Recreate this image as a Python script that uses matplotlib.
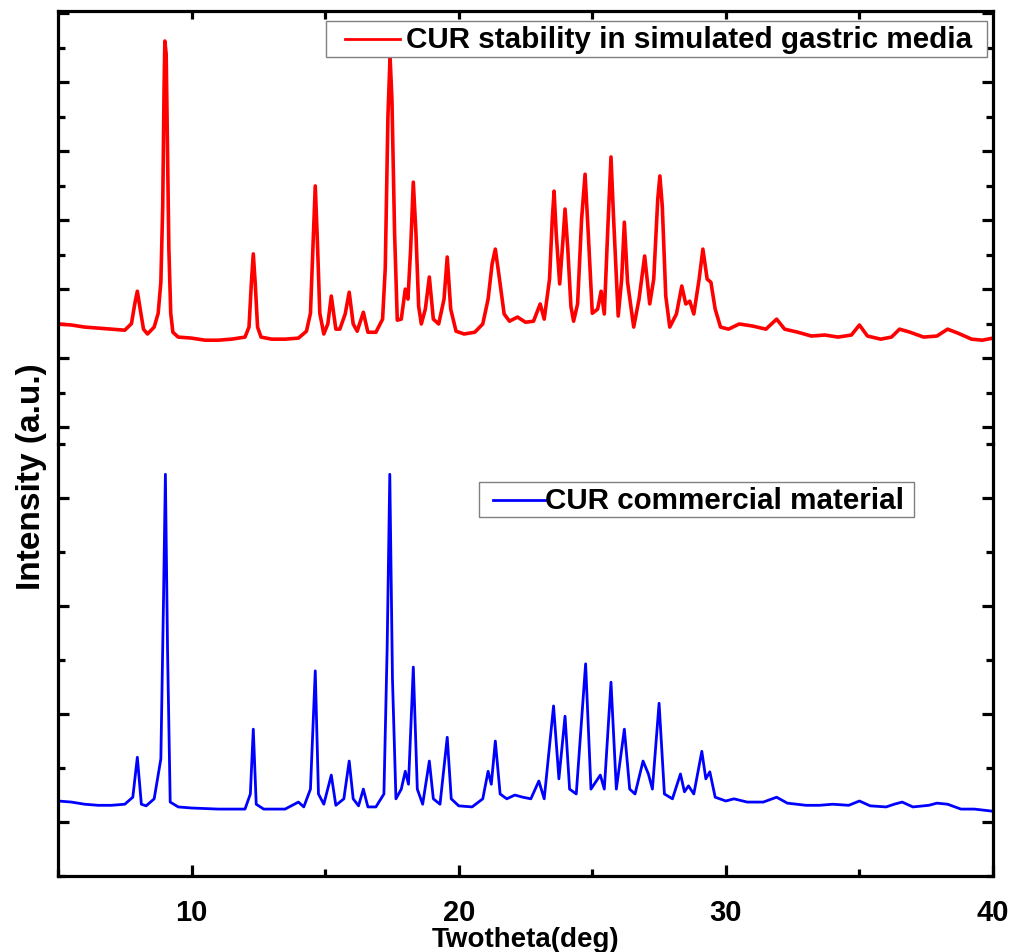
import matplotlib
matplotlib.use("Agg")
import matplotlib.pyplot as plt
from matplotlib.patches import Rectangle
from matplotlib.ticker import MultipleLocator

plt.rcParams['font.family'] = ['Liberation Sans', 'DejaVu Sans']
plt.rcParams['font.weight'] = 'bold'

# CUR stability in simulated gastric media (red, top panel)
gastric_2theta = [5.0, 5.5, 6.0, 6.5, 7.0, 7.5, 7.75, 7.88, 7.97, 8.06, 8.2, 8.35, 8.6, 8.75, 8.85,
                  8.92, 8.97, 9.0, 9.05, 9.1, 9.15, 9.22, 9.3, 9.5, 10.0, 10.5, 11.0, 11.5, 12.0,
                  12.15, 12.24, 12.31, 12.38, 12.47, 12.6, 13.0,
                  13.5, 14.0, 14.3, 14.45, 14.56, 14.63, 14.7, 14.8, 14.95, 15.1, 15.23, 15.4,
                  15.55, 15.75, 15.9, 16.05, 16.2, 16.43, 16.6, 16.9, 17.15, 17.25, 17.35, 17.43,
                  17.5, 17.6, 17.7, 17.85, 18.0, 18.1, 18.2, 18.3, 18.4, 18.5, 18.6, 18.75, 18.9,
                  19.05, 19.25, 19.45, 19.57, 19.7, 19.9, 20.2, 20.6, 20.9, 21.1, 21.25, 21.37,
                  21.5, 21.7, 21.9, 22.2, 22.5, 22.8, 23.05, 23.2, 23.4, 23.5, 23.57, 23.65, 23.78,
                  23.9, 23.98, 24.08, 24.2, 24.3, 24.45, 24.6, 24.73, 24.85, 25.0, 25.2, 25.33,
                  25.45, 25.58, 25.7, 25.8, 25.97, 26.1, 26.2, 26.32, 26.55, 26.75, 26.96, 27.15,
                  27.3, 27.45, 27.53, 27.62, 27.75, 27.9, 28.15, 28.35, 28.5, 28.65, 28.8, 29.0,
                  29.14, 29.3, 29.44, 29.6, 29.8, 30.1, 30.5, 31.0, 31.5, 31.9, 32.2, 32.7, 33.2,
                  33.7, 34.2, 34.7, 35.0, 35.3, 35.8, 36.2, 36.5, 36.9, 37.4, 37.9, 38.3, 38.7,
                  39.2, 39.6, 40.0]
gastric_int = [299, 296, 290, 287, 284, 281, 300, 360, 394, 350, 284, 270, 290, 330, 420,
               640, 980, 1119, 1080, 800, 516, 330, 275, 261, 258, 252, 252, 255, 261,
               290, 420, 502, 420, 290, 261, 255,
               255, 258, 278, 330, 560, 699, 560, 330, 270, 299, 380, 284,
               284, 328, 391, 299, 278, 333, 275, 275, 313, 460, 900, 1073,
               950, 560, 310, 313, 400, 371, 516, 710, 560, 350, 299, 342, 435,
               313, 299, 371, 493, 342, 278, 270, 275, 299, 371, 473, 516,
               444, 328, 307, 319, 304, 307, 357, 313, 429, 600, 684, 560, 415,
               540, 632, 520, 350, 307, 357, 603, 733, 560, 330, 342, 394,
               328, 574, 783, 600, 322, 429, 594, 420, 290, 371, 496, 357,
               429, 660, 728, 640, 380, 290, 328, 409, 357, 365, 328, 429,
               516, 429, 420, 342, 290, 284, 299, 293, 284, 313, 284, 275, 264,
               267, 261, 267, 296, 264, 255, 261, 284, 275, 261, 264, 284, 272,
               255, 252, 258]

# CUR commercial material (blue, bottom panel)
commercial_2theta = [5.0, 5.5, 6.0, 6.5, 7.0, 7.5, 7.8, 7.97, 8.12, 8.3, 8.6, 8.85, 8.95, 9.02,
                     9.1, 9.2, 9.5, 10.0, 11.0, 12.0, 12.2, 12.31, 12.42, 12.7, 13.5, 14.0,
                     14.2, 14.45, 14.63, 14.75, 14.95, 15.23, 15.4, 15.7, 15.9, 16.05, 16.25,
                     16.43, 16.6, 16.9, 17.2, 17.32, 17.42, 17.52, 17.65, 17.85, 18.0, 18.12,
                     18.3, 18.45, 18.65, 18.9, 19.05, 19.3, 19.57, 19.72, 20.0, 20.5, 20.9,
                     21.1, 21.22, 21.37, 21.55, 21.8, 22.1, 22.4, 22.7, 23.0, 23.2, 23.55,
                     23.75, 23.98, 24.15, 24.4, 24.75, 24.95, 25.3, 25.45, 25.7, 25.9, 26.2,
                     26.4, 26.6, 26.9, 27.1, 27.25, 27.5, 27.7, 28.0, 28.3, 28.45, 28.6, 28.8,
                     29.1, 29.25, 29.4, 29.6, 30.0, 30.3, 30.8, 31.4, 31.9, 32.3, 33.0, 33.5,
                     34.0, 34.6, 35.0, 35.4, 36.0, 36.3, 36.6, 37.0, 37.6, 37.9, 38.3, 38.8,
                     39.3, 40.0]
commercial_int = [39, 37, 33, 31, 31, 33, 46, 120, 33, 30, 43, 117, 413, 644,
                  320, 37, 28, 26, 24, 24, 52, 172, 33, 24, 24, 37,
                  28, 61, 280, 52, 33, 87, 31, 43, 113, 43, 30,
                  61, 28, 28, 52, 320, 644, 265, 43, 61, 94, 70,
                  287, 61, 33, 113, 43, 33, 157, 43, 30, 28, 43,
                  94, 70, 150, 52, 43, 50, 46, 43, 76, 43, 215,
                  80, 196, 61, 52, 293, 61, 87, 61, 259, 61, 172,
                  61, 52, 113, 89, 61, 220, 52, 43, 89, 56, 67, 52,
                  131, 80, 93, 46, 39, 43, 37, 37, 46, 35, 31, 31,
                  33, 31, 39, 30, 28, 33, 37, 28, 31, 35, 33, 24,
                  24, 20]

x_ticks = [10, 20, 30, 40]
top_label = 'CUR stability in simulated gastric media'
bot_label = 'CUR commercial material'

fig = plt.figure(figsize=(10.14, 9.53), dpi=100)
ax_top = fig.add_axes([0.0572, 0.5330, 0.9221, 0.4544])
ax_bot = fig.add_axes([0.0572, 0.0797, 0.9221, 0.4533])

ax_top.plot(gastric_2theta, gastric_int, color='#ff0000', lw=2.6)
ax_bot.plot(commercial_2theta, commercial_int, color='#0000ff', lw=2.0)

for ax in (ax_top, ax_bot):
    ax.set_xlim(5, 40)
    for s in ax.spines.values():
        s.set_linewidth(2.3)
    ax.set_yticklabels([])
    ax.tick_params(which='both', direction='in', width=2.3)
    ax.tick_params(which='major', length=8)
    ax.tick_params(which='minor', length=5)

ax_top.set_ylim(-49, 1206)
ax_top.yaxis.set_major_locator(MultipleLocator(200))
ax_top.yaxis.set_minor_locator(MultipleLocator(100))
ax_top.set_xticks([10, 15, 20, 25, 30, 35])
ax_top.spines['bottom'].set_visible(False)
ax_top.tick_params(which='both', left=True, right=True, top=True, bottom=False,
                   labelbottom=False)
ax_top.tick_params(axis='x', which='major', length=6)

ax_bot.set_ylim(-100, 700)
ax_bot.yaxis.set_major_locator(MultipleLocator(200))
ax_bot.yaxis.set_minor_locator(MultipleLocator(100))
ax_bot.set_xticks(x_ticks)
ax_bot.xaxis.set_minor_locator(MultipleLocator(5))
ax_bot.spines['top'].set_visible(False)
ax_bot.tick_params(which='both', left=True, right=True, top=False, bottom=True)
ax_bot.tick_params(axis='x', labelsize=21, pad=16)

ax_bot.set_xlabel('Twotheta(deg)', fontsize=20, fontweight='bold', labelpad=0)
fig.text(0.031, 0.500, 'Intensity (a.u.)', rotation=90, fontsize=24,
         fontweight='bold', ha='center', va='center')


def legend_box(ax, box, line, text_x, label, color):
    x0, y0, x1, y1 = box
    ax.add_patch(Rectangle((x0, y0), x1 - x0, y1 - y0, transform=ax.transAxes,
                           facecolor='white', edgecolor='#808080', lw=1.0, zorder=5))
    ym = (y0 + y1) / 2
    ax.plot(line, [ym, ym], transform=ax.transAxes, color=color, lw=2.0, zorder=6)
    ax.text(text_x, ym, label, transform=ax.transAxes, fontsize=21.3,
            fontweight='bold', va='center', ha='left', zorder=6)


legend_box(ax_top, (0.2866, 0.8938, 0.9936, 0.9769), (0.3069, 0.3658), 0.3722,
           top_label, '#ff0000')
legend_box(ax_bot, (0.4503, 0.8310, 0.9155, 0.9120), (0.4652, 0.5209), 0.5209,
           bot_label, '#0000ff')

fig.savefig('out.png', dpi=100)
